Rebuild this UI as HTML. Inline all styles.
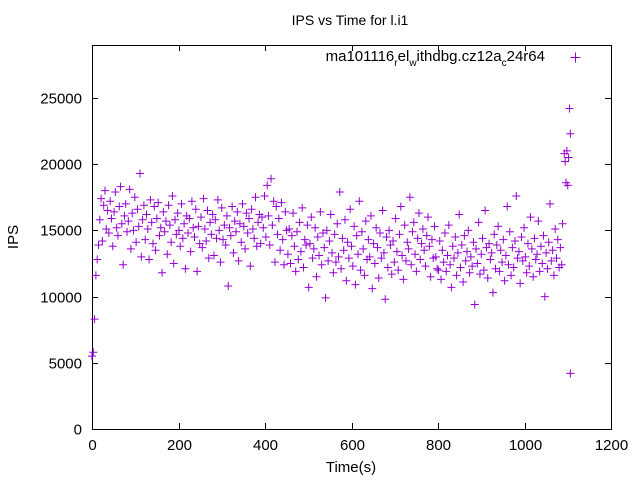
<!DOCTYPE html>
<html><head><meta charset="utf-8"><style>
body{margin:0;background:#fff;width:640px;height:480px;overflow:hidden}
svg{display:block;font-family:"Liberation Sans",sans-serif}
</style></head><body>
<svg id="chart" width="640" height="480">
<text x="350" y="25" text-anchor="middle" font-size="14">IPS vs Time for l.i1</text>
<text x="18" y="237" text-anchor="middle" font-size="15" transform="rotate(-90 18 237)">IPS</text>
<text x="351" y="472" text-anchor="middle" font-size="15">Time(s)</text>
<g>
<text x="545" y="61" text-anchor="end" font-size="15">ma101116<tspan dy="5" font-size="10">r</tspan><tspan dy="-5">el</tspan><tspan dy="5" font-size="10">w</tspan><tspan dy="-5">ithdbg.cz12a</tspan><tspan dy="5" font-size="10">c</tspan><tspan dy="-5">24r64</tspan></text>
<path d="M570.5,57.5h10M575.5,52.5v10" stroke="#9400d3" stroke-width="1"/>
</g>
<g id="axes"></g>
<g id="points"></g>
</svg>
<script>
const xTicks=[0,200,400,600,800,1000,1200];
const yTicks=[0,5000,10000,15000,20000,25000];
const sampleInterval=3;
const ipsK=[5.5,5.8,8.3,11.6,
12.8,13.9,15.8,17.4,14.2,16.9,18.0,
15.1,16.5,14.8,17.2,15.9,13.8,16.4,17.9,15.2,14.6,16.8,18.3,15.5,12.4,16.1,17.0,14.9,15.7,18.1,13.6,16.3,15.0,17.5,14.1,16.6,15.3,19.3,13.0,15.8,16.9,
14.3,16.2,15.1,12.8,17.3,15.6,14.0,16.8,13.5,15.9,17.1,14.6,15.2,11.8,16.4,14.9,15.7,13.2,16.9,15.4,14.1,17.6,12.5,15.8,14.7,16.3,15.0,13.8,17.0,14.4,15.5,12.1,16.1,14.8,15.9,13.4,17.2,15.2,14.5,16.6,11.9,15.3,14.0,16.0,13.7,17.4,15.1,14.2,16.5,12.9,15.6,14.7,16.2,13.1,15.8,14.4,17.3,15.0,12.6,16.7,14.3,15.4,13.9,16.1,10.8,15.2,14.6,16.8,13.3,15.7,14.9,16.4,12.7,15.5,14.1,17.0,15.3,13.6,16.3,14.8,15.9,12.3,16.6,15.1,14.4,17.5,13.8,15.6,16.2,14.0,
16.0,15.2,17.6,14.5,18.4,16.1,13.9,18.9,15.4,17.2,12.6,16.8,14.7,15.9,13.5,17.1,14.3,12.4,16.4,15.0,
13.2,15.1,12.5,14.6,16.3,13.8,11.9,14.9,12.8,15.6,13.4,16.7,12.2,14.3,13.9,15.4,10.7,14.0,16.0,12.9,13.6,15.2,11.5,14.5,13.1,16.4,12.4,14.8,13.7,9.9,15.0,12.7,14.2,16.2,13.3,11.8,14.7,12.6,15.5,13.0,17.9,12.1,14.4,13.5,15.8,11.2,14.1,12.9,16.6,13.8,12.3,15.3,10.9,14.6,13.2,17.2,12.0,14.9,13.6,11.6,15.7,12.8,14.3,13.0,16.1,10.6,14.0,12.5,15.2,13.7,11.4,14.8,12.9,16.5,13.3,9.8,14.5,12.2,15.0,13.9,11.7,14.2,12.6,15.9,13.4,12.0,14.7,16.8,13.1,11.3,15.4,12.7,14.1,13.6,17.5,12.4,14.9,15.6,13.2,11.9,14.4,16.3,12.8,14.0,15.1,13.5,12.3,14.6,16.0,13.8,11.5,14.3,12.9,15.3,13.0,12.1,
12.0,14.2,11.3,13.5,12.6,14.8,11.9,13.1,15.4,12.4,10.7,13.8,12.9,14.5,11.6,13.3,16.2,12.2,13.9,11.1,14.6,12.7,13.4,15.0,11.8,13.0,12.3,14.1,9.4,13.6,12.5,15.6,11.7,13.2,14.4,12.0,16.5,13.7,11.4,14.0,12.8,13.3,10.3,14.7,12.1,13.9,15.3,11.9,13.5,12.6,14.3,11.2,13.1,16.8,12.4,14.9,11.6,13.7,12.2,14.2,17.6,12.9,13.4,11.0,14.5,12.7,15.2,13.0,11.8,14.0,12.3,16.0,13.6,11.5,14.4,12.8,13.2,15.7,11.9,13.8,12.5,14.6,10.0,13.3,12.1,14.1,17.0,12.7,13.5,11.6,15.1,12.9,14.3,12.2,13.7,12.4];
const tailTimes=[1088,1092,1094,1096,1098,1100,1102,1104,1106,1106];
const tailIps=[15500,20800,20200,18600,21000,18400,20500,24200,22300,4200];

const L=92,R=611,T=45,B=429,XMAX=1200,YMAX=29000;
const xs=v=>L+(v/XMAX)*(R-L);
const ys=v=>B-(v/YMAX)*(B-T);
const NS="http://www.w3.org/2000/svg";
const axes=document.getElementById('axes');
function mk(tag,attrs,parent){const e=document.createElementNS(NS,tag);for(const k in attrs)e.setAttribute(k,attrs[k]);parent.appendChild(e);return e;}
const frame=mk('rect',{x:L+0.5,y:T+0.5,width:R-L,height:B-T,fill:'none',stroke:'#000','stroke-width':1},axes);


xTicks.forEach(v=>{const x=Math.round(xs(v))+0.5;
 const tk=mk('path',{d:`M${x},${B}v-6M${x},${T}v6`,stroke:'#000'},axes);
 
 
 const t=mk('text',{x:x,y:B+21,'text-anchor':'middle','font-size':15},axes);t.textContent=v;
 
 });
yTicks.forEach(v=>{const y=Math.round(ys(v))+0.5;
 const tk=mk('path',{d:`M${L},${y}h6M${R},${y}h-6`,stroke:'#000'},axes);
 
 
 const t=mk('text',{x:L-10,y:y+5,'text-anchor':'end','font-size':15},axes);t.textContent=v;
 
 });
const pts=document.getElementById('points');
function plus(t,v){const x=xs(t),y=ys(v);
 const p=mk('path',{d:`M${x-4},${y}h8M${x},${y-4}v8`,stroke:'#9400d3','stroke-width':1,fill:'none'},pts);
 
 }
ipsK.forEach((v,i)=>plus(i*sampleInterval,v*1000));
tailTimes.forEach((t,i)=>plus(t,tailIps[i]));
</script>
</body></html>
